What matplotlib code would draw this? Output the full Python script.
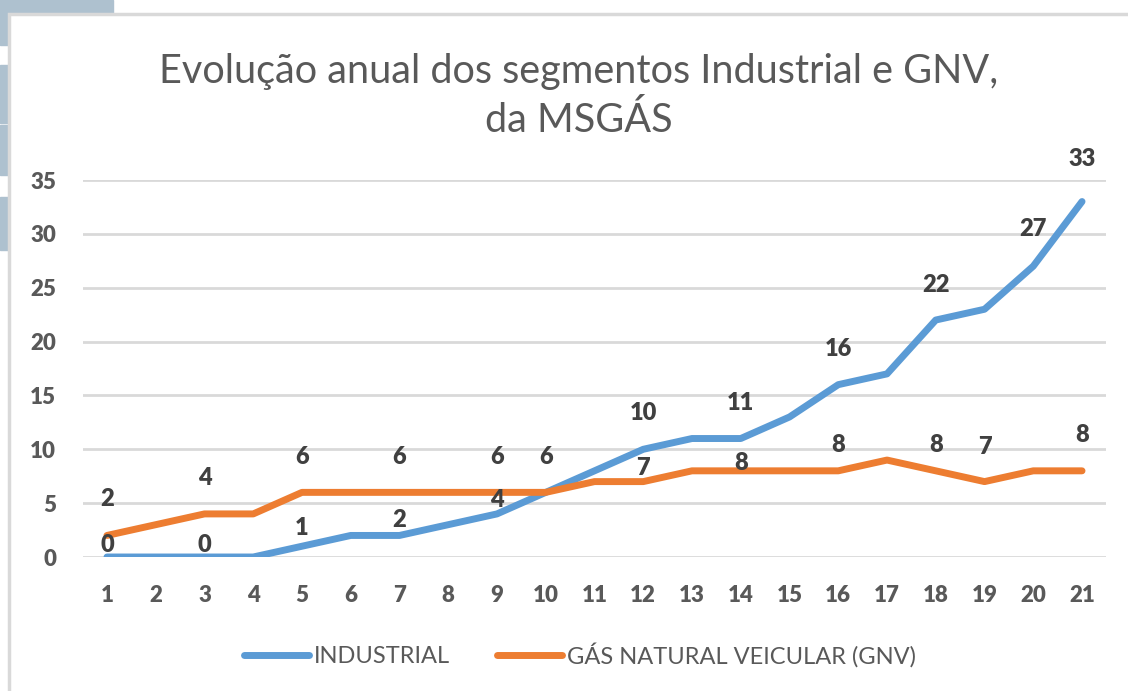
import matplotlib
matplotlib.use("Agg")
import matplotlib.pyplot as plt
from matplotlib.patches import Rectangle

years = list(range(1, 22))
industrial = [0, 0, 0, 0, 1, 2, 2, 3, 4, 6, 8, 10, 11, 11, 13, 16, 17, 22, 23, 27, 33]
gnv = [2, 3, 4, 4, 6, 6, 6, 6, 6, 6, 7, 7, 8, 8, 8, 8, 9, 8, 7, 8, 8]
yticks = [0, 5, 10, 15, 20, 25, 30, 35]
title = "Evolução anual dos segmentos Industrial e GNV,\nda MSGÁS"
series_names = ["INDUSTRIAL", "GÁS NATURAL VEICULAR (GNV)"]

# which points carry a data label, and label lift (pixels above the point)
ind_label_idx = [1, 3, 5, 7, 9, 12, 14, 16, 18, 20, 21]
ind_label_lift = [12, 12, 18, 15, 14, 36, 36, 36, 35, 37, 43]
gnv_label_idx = [1, 3, 5, 7, 9, 10, 12, 14, 16, 18, 19, 21]
gnv_label_lift = [36, 36, 35, 35, 35, 35, 14, 8, 26, 26, 35, 36]

W, H = 1128, 691
fig = plt.figure(figsize=(W / 100, H / 100), dpi=100)
plt.rcParams['font.family'] = ['Lato', 'DejaVu Sans']

# background decoration (left strip)
deco = "#AEC1CF"
for (x0, y0, w, h) in [(0, 0, 113, 14), (0, 0, 8, 45), (0, 65, 8, 58), (0, 125, 8, 50), (0, 197, 8, 53)]:
    fig.patches.append(Rectangle((x0 / W, 1 - (y0 + h) / H), w / W, h / H,
                                 transform=fig.transFigure, color=deco, zorder=0))
# chart frame
fig.patches.append(Rectangle((9 / W, -0.05), 1.2, 1 - 14 / H + 0.05, transform=fig.transFigure,
                             facecolor="white", edgecolor="#D9D9D9", linewidth=2.5, zorder=1))

ax = fig.add_axes([82.6 / W, 1 - 557 / H, (1106.4 - 82.6) / W, (557 - 180) / H])
ax.set_facecolor("none")
ax.set_zorder(2)

blue, orange = "#5B9BD5", "#ED7D31"
ax.plot(years, industrial, color=blue, lw=5, solid_capstyle="round", solid_joinstyle="round",
        label=series_names[0], zorder=3)
ax.plot(years, gnv, color=orange, lw=5, solid_capstyle="round", solid_joinstyle="round",
        label=series_names[1], zorder=3)

ax.set_xlim(0.5, 21.5)
ax.set_ylim(0, 35)
ax.set_yticks(yticks)
ax.set_xticks(years)
ax.grid(axis="y", color="#D9D9D9", lw=2)
ax.set_axisbelow(True)
for s in ax.spines.values():
    s.set_visible(False)
ax.tick_params(length=0, labelsize=16, labelcolor="#595959")
ax.tick_params(axis="y", pad=19)
ax.tick_params(axis="x", pad=20)
for t in ax.get_xticklabels() + ax.get_yticklabels():
    t.set_fontweight("heavy")

lab_kw = dict(textcoords="offset points", ha="center", va="center", fontsize=17,
              fontweight="heavy", color="#404040", zorder=5)
for i, lift in zip(ind_label_idx, ind_label_lift):
    ax.annotate(str(industrial[i - 1]), (years[i - 1], industrial[i - 1]),
                xytext=(0, lift * 0.72), **lab_kw)
for i, lift in zip(gnv_label_idx, gnv_label_lift):
    ax.annotate(str(gnv[i - 1]), (years[i - 1], gnv[i - 1]),
                xytext=(0, lift * 0.72), **lab_kw)

fig.text(579 / W, 1 - 96 / H, title, ha="center", va="center", fontsize=28.5,
         color="#595959", linespacing=1.36, zorder=5)

leg = fig.legend(loc="center", bbox_to_anchor=(580 / W, 1 - 655 / H), ncol=2,
                 frameon=False, handlelength=2.75, handletextpad=0.21,
                 columnspacing=2.0, fontsize=17)
for t in leg.get_texts():
    t.set_color("#595959")
for l in leg.get_lines():
    l.set_linewidth(5)
    l.set_solid_capstyle("round")

fig.savefig("out.png", dpi=100)
